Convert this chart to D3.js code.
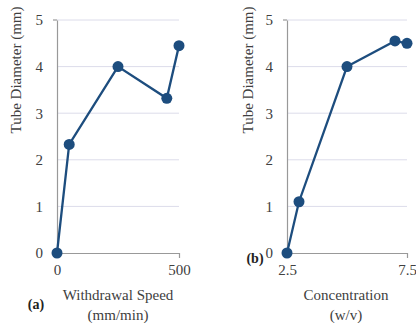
<!DOCTYPE html>
<html>
<head>
<meta charset="utf-8">
<script src="https://cdn.jsdelivr.net/npm/d3@7"></script>
<style>
  html, body { margin: 0; padding: 0; background: #fff; }
  svg { display: block; }
</style>
</head>
<body>
<svg id="chart" width="416" height="323"></svg>
<script>
// Panel (a): tube diameter vs withdrawal speed
const speedValues = [0, 50, 250, 450, 500];
const speedDiameters = [0, 2.33, 4.0, 3.32, 4.45];
const speedTicks = [0, 500];

// Panel (b): tube diameter vs concentration
const concValues = [2.5, 3.0, 5.0, 7.0, 7.5];
const concDiameters = [0, 1.1, 4.0, 4.55, 4.5];
const concTicks = [2.5, 7.5];

const yTicks = [0, 1, 2, 3, 4, 5];

const serif = "Liberation Serif";
const svg = d3.select("#chart").attr("font-family", serif);
const lineColor = "#1d4d7e";
const textColor = "#404040";

function panel(opts) {
  const g = svg.append("g");
  const x = d3.scaleLinear().domain(opts.xDomain).range([opts.left, opts.right]);
  const y = d3.scaleLinear().domain([0, 5]).range([253, 20]);

  // horizontal gridlines
  g.append("g").selectAll("line").data(yTicks.filter(d => d > 0)).join("line")
    .attr("x1", opts.left).attr("x2", opts.right)
    .attr("y1", d => y(d)).attr("y2", d => y(d))
    .attr("stroke", "#dcdcea").attr("stroke-width", 1);

  // y axis
  const ya = g.append("g").attr("transform", `translate(${opts.left},0)`)
    .call(d3.axisLeft(y).tickValues(yTicks).tickSize(0).tickPadding(14).tickFormat(d3.format("d")));
  ya.attr("font-family", serif).attr("font-size", 15);
  ya.select(".domain").attr("stroke", "#999").attr("stroke-width", 1.2);
  ya.selectAll("text").attr("fill", textColor);
  g.append("line").attr("x1", opts.left - 4).attr("x2", opts.left)
    .attr("y1", y(5)).attr("y2", y(5)).attr("stroke", "#999").attr("stroke-width", 1.2);

  // x axis
  const xa = g.append("g").attr("transform", `translate(0,${y(0)})`)
    .call(d3.axisBottom(x).tickValues(opts.xTicks).tickSizeInner(5).tickSizeOuter(0).tickPadding(6)
      .tickFormat(opts.xFormat));
  xa.attr("font-family", serif).attr("font-size", 15);
  xa.select(".domain").attr("stroke", "#999").attr("stroke-width", 1.2);
  xa.selectAll(".tick line").attr("stroke", "#999").attr("stroke-width", 1.2);
  xa.selectAll("text").attr("fill", textColor);

  // axis titles
  g.append("text")
    .attr("transform", `translate(${opts.yTitleX},70) rotate(-90)`)
    .attr("text-anchor", "middle").attr("dominant-baseline", "middle")
    .attr("font-family", serif).attr("font-size", 15).attr("fill", textColor)
    .text("Tube Diameter (mm)");
  g.append("text").attr("x", opts.xTitleX).attr("y", 300)
    .attr("text-anchor", "middle").attr("font-family", serif).attr("font-size", 15)
    .attr("fill", textColor).text(opts.xTitle[0]);
  g.append("text").attr("x", opts.xTitleX).attr("y", 320)
    .attr("text-anchor", "middle").attr("font-family", serif).attr("font-size", 15)
    .attr("fill", textColor).text(opts.xTitle[1]);

  // panel tag
  g.append("text").attr("x", opts.tag[0]).attr("y", opts.tag[1])
    .attr("text-anchor", "middle").attr("font-family", serif).attr("font-size", 14)
    .attr("font-weight", "bold").attr("fill", "#222").text(opts.tag[2]);

  // data line and markers
  const pts = opts.xs.map((v, i) => [v, opts.ys[i]]);
  g.append("path").datum(pts)
    .attr("d", d3.line().x(d => x(d[0])).y(d => y(d[1])))
    .attr("fill", "none").attr("stroke", lineColor).attr("stroke-width", 2.3);
  g.append("g").selectAll("circle").data(pts).join("circle")
    .attr("cx", d => x(d[0])).attr("cy", d => y(d[1])).attr("r", 5.5)
    .attr("fill", lineColor);
}

panel({
  xDomain: [0, 500], left: 57, right: 179, xTicks: speedTicks, xFormat: d3.format("d"),
  xs: speedValues, ys: speedDiameters, yTitleX: 18, xTitleX: 118,
  xTitle: ["Withdrawal Speed", "(mm/min)"], tag: [36, 309, "(a)"]
});
panel({
  xDomain: [2.5, 7.5], left: 287, right: 407, xTicks: concTicks, xFormat: d3.format(".1f"),
  xs: concValues, ys: concDiameters, yTitleX: 250, xTitleX: 346,
  xTitle: ["Concentration", "(w/v)"], tag: [255, 263, "(b)"]
});
</script>
</body>
</html>
